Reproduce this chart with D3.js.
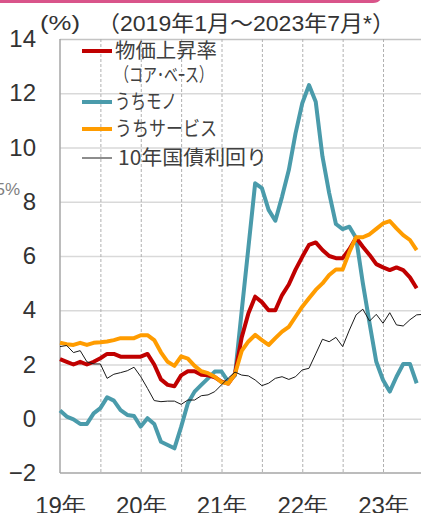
<!DOCTYPE html>
<html>
<head>
<meta charset="utf-8">
<script src="https://cdn.jsdelivr.net/npm/d3@7"></script>
<style>
  body { margin: 0; background: #fff; overflow: hidden; }
  svg { display: block; font-family: "Liberation Sans", "Noto Sans CJK JP", sans-serif; }
</style>
</head>
<body>
<div id="chart"></div>
<script>
// values, monthly from Jan 2019 (index 0)
const yTicks = [-2, 0, 2, 4, 6, 8, 10, 12, 14]
const yearTickLabels = ["19年", "20年", "21年", "22年", "23年"]
const yearTickMonths = [0, 12, 24, 36, 48]

const coreCpi = [2.2, 2.1, 2.0, 2.1, 2.0, 2.1, 2.23, 2.39, 2.39, 2.29, 2.29, 2.29, 2.29, 2.39,
  2.0, 1.45, 1.25, 1.2, 1.6, 1.75, 1.75, 1.62, 1.6, 1.53, 1.37, 1.3, 1.65,
  3.0, 3.89, 4.5, 4.3, 4.0, 4.0, 4.56, 4.95, 5.5, 5.97, 6.41, 6.5, 6.22,
  6.0, 5.92, 5.92, 6.25, 6.67, 6.34, 6.04, 5.7, 5.58, 5.48, 5.58, 5.48, 5.21, 4.81]

const goods = [0.3, 0.08, -0.02, -0.19, -0.19, 0.2, 0.39, 0.79, 0.67, 0.32, 0.14, 0.1, -0.29, 0.02,
  -0.19, -0.85, -0.97, -1.09, -0.3, 0.57, 1.0, 1.25, 1.49, 1.74, 1.74, 1.37, 1.6,
  3.97, 6.32, 8.68, 8.5, 7.7, 7.3, 8.19, 9.17, 10.52, 11.63, 12.3, 11.69, 9.67,
  8.32, 7.18, 6.99, 7.08, 6.66, 5.0, 3.52, 2.1, 1.43, 1.0, 1.55, 2.02, 2.02, 1.31]

const services = [2.8, 2.75, 2.72, 2.8, 2.72, 2.8, 2.82, 2.85, 2.9, 2.97, 2.97, 2.97, 3.08, 3.08,
  2.9, 2.45, 2.1, 1.95, 2.3, 2.22, 1.95, 1.75, 1.68, 1.55, 1.35, 1.3, 1.65,
  2.5, 2.85, 3.09, 2.9, 2.72, 2.97, 3.21, 3.39, 3.76, 4.13, 4.44, 4.75, 4.99,
  5.3, 5.5, 5.5, 6.15, 6.69, 6.69, 6.8, 7.0, 7.2, 7.29, 7.02, 6.77, 6.59, 6.22]

const bond10y = [2.66, 2.7, 2.44, 2.51, 2.1, 2.02, 2.02, 1.49, 1.64, 1.7, 1.77, 1.9, 1.55, 1.12, 0.67, 0.63,
  0.65, 0.65, 0.53, 0.69, 0.69, 0.85, 0.88, 1.0, 1.25, 1.5, 1.72,
  1.61, 1.58, 1.43, 1.22, 1.31, 1.49, 1.55, 1.45, 1.55, 1.8, 1.86, 2.39, 2.93, 2.84, 3.0, 2.66,
  3.27, 3.83, 4.04, 3.6, 3.85, 3.52, 3.91, 3.46, 3.42, 3.65, 3.83, 3.85]

const seriesNames = ["物価上昇率", "うちモノ", "うちサービス", "10年国債利回り"]

// dimensions
let dimensions = {
  width: 421,
  height: 513,
  margin: { top: 39, right: -2.4, bottom: 40, left: 60 },
}
dimensions.boundedWidth = dimensions.width - dimensions.margin.left - dimensions.margin.right
dimensions.boundedHeight = dimensions.height - dimensions.margin.top - dimensions.margin.bottom

const wrapper = d3.select("#chart")
  .append("svg")
    .attr("width", dimensions.width)
    .attr("height", dimensions.height)

const bounds = wrapper.append("g")
  .attr("transform", `translate(${dimensions.margin.left},${dimensions.margin.top})`)

// scales
const xScale = d3.scaleLinear()
  .domain([0, 54])
  .range([0, dimensions.boundedWidth])

const yScale = d3.scaleLinear()
  .domain([-2, 14])
  .range([dimensions.boundedHeight, 0])

// grid lines
const yGrid = bounds.append("g")
  .call(d3.axisLeft(yScale).tickValues(yTicks.filter(d => d > -2)).tickSize(-dimensions.boundedWidth).tickFormat(""))
yGrid.select(".domain").remove()
yGrid.selectAll("line")
  .attr("stroke", d => d === 14 ? "#c4c4c4" : "#d9d9d9")
  .attr("stroke-width", 1.5)

const xGrid = bounds.append("g")
  .call(d3.axisBottom(xScale).tickValues(d3.range(6, 55, 6)).tickSize(dimensions.boundedHeight).tickFormat(""))
xGrid.select(".domain").remove()
xGrid.selectAll("line")
  .attr("stroke", "#b0b0b0")
  .attr("stroke-width", 1)
  .attr("stroke-dasharray", "3,2")

// axis lines
bounds.append("line")
  .attr("x1", 0).attr("x2", 0)
  .attr("y1", 0).attr("y2", dimensions.boundedHeight)
  .attr("stroke", "#a6a6a6").attr("stroke-width", 1.5)
bounds.append("line")
  .attr("x1", 0).attr("x2", dimensions.boundedWidth)
  .attr("y1", yScale(-2)).attr("y2", yScale(-2))
  .attr("stroke", "#a6a6a6").attr("stroke-width", 1.5)

// tick labels
const yAxis = bounds.append("g")
  .call(d3.axisLeft(yScale).tickValues(yTicks).tickSize(0).tickPadding(24).tickFormat(d3.format("d")))
yAxis.select(".domain").remove()
yAxis.selectAll("text")
  .attr("font-size", 24)
  .attr("fill", "#333")
  .attr("font-family", "Liberation Sans, Arial, sans-serif")

const xAxis = bounds.append("g")
  .attr("transform", `translate(0,${dimensions.boundedHeight})`)
  .call(d3.axisBottom(xScale).tickValues(yearTickMonths).tickSize(0).tickFormat((d, i) => yearTickLabels[i]))
xAxis.select(".domain").remove()
xAxis.selectAll("text")
  .attr("y", 41)
  .attr("dy", 0)
  .attr("font-size", 24)
  .attr("fill", "#333")

// lines
const lineGenerator = d3.line()
  .x((d, i) => xScale(i))
  .y(d => yScale(d))

const lines = [
  { values: goods, color: "#4a9bab", width: 4 },
  { values: coreCpi, color: "#c00000", width: 4 },
  { values: services, color: "#ff9c00", width: 4 },
  { values: bond10y, color: "#1a1a1a", width: 1 },
]
lines.forEach(s => {
  bounds.append("path")
    .attr("d", lineGenerator(s.values))
    .attr("fill", "none")
    .attr("stroke", s.color)
    .attr("stroke-width", s.width)
    .attr("stroke-linejoin", "round")
})

// legend
const legend = [
  { name: seriesNames[0], color: "#c00000", width: 4, y: 51, len: 102 },
  { name: seriesNames[1], color: "#4a9bab", width: 4, y: 102, len: 62 },
  { name: seriesNames[2], color: "#ff9c00", width: 4, y: 129, len: 102 },
  { name: seriesNames[3], color: "#1a1a1a", width: 1, y: 158, len: 149 },
]
legend.forEach(l => {
  wrapper.append("line")
    .attr("x1", 82).attr("x2", 112)
    .attr("y1", l.y).attr("y2", l.y)
    .attr("stroke", l.color)
    .attr("stroke-width", l.width)
  wrapper.append("text")
    .attr("x", l.width > 1 ? 115 : 118)
    .attr("y", l.y + 7)
    .attr("font-size", 20)
    .attr("font-family", "Noto Sans CJK JP, sans-serif")
    .attr("fill", "#404040")
    .attr("textLength", l.len)
    .attr("lengthAdjust", "spacingAndGlyphs")
    .text(l.name)
})
wrapper.append("text")
  .attr("x", 115).attr("y", 82)
  .attr("font-size", 19)
  .attr("font-family", "Noto Sans CJK JP, sans-serif")
  .attr("fill", "#404040")
  .attr("textLength", 98)
  .attr("lengthAdjust", "spacingAndGlyphs")
  .text("（コア･ベｰス）")

// titles
wrapper.append("text")
  .attr("x", 40).attr("y", 30)
  .attr("font-size", 21)
  .attr("fill", "#333")
  .attr("textLength", 40)
  .attr("lengthAdjust", "spacingAndGlyphs")
  .text("(%)")
wrapper.append("text")
  .attr("x", 97).attr("y", 31)
  .attr("font-size", 22)
  .attr("fill", "#333")
  .attr("textLength", 298)
  .attr("lengthAdjust", "spacingAndGlyphs")
  .text("（2019年1月～2023年7月*）")

// stray bits at the edges of the picture
wrapper.append("path")
  .attr("d", "M0,1.5 H373 Q380,1.5 381,-6")
  .attr("fill", "none")
  .attr("stroke", "#d9548a")
  .attr("stroke-width", 3)
wrapper.append("text")
  .attr("x", 20).attr("y", 195)
  .attr("text-anchor", "end")
  .attr("font-size", 17)
  .attr("fill", "#808080")
  .text("5%")
</script>
</body>
</html>
